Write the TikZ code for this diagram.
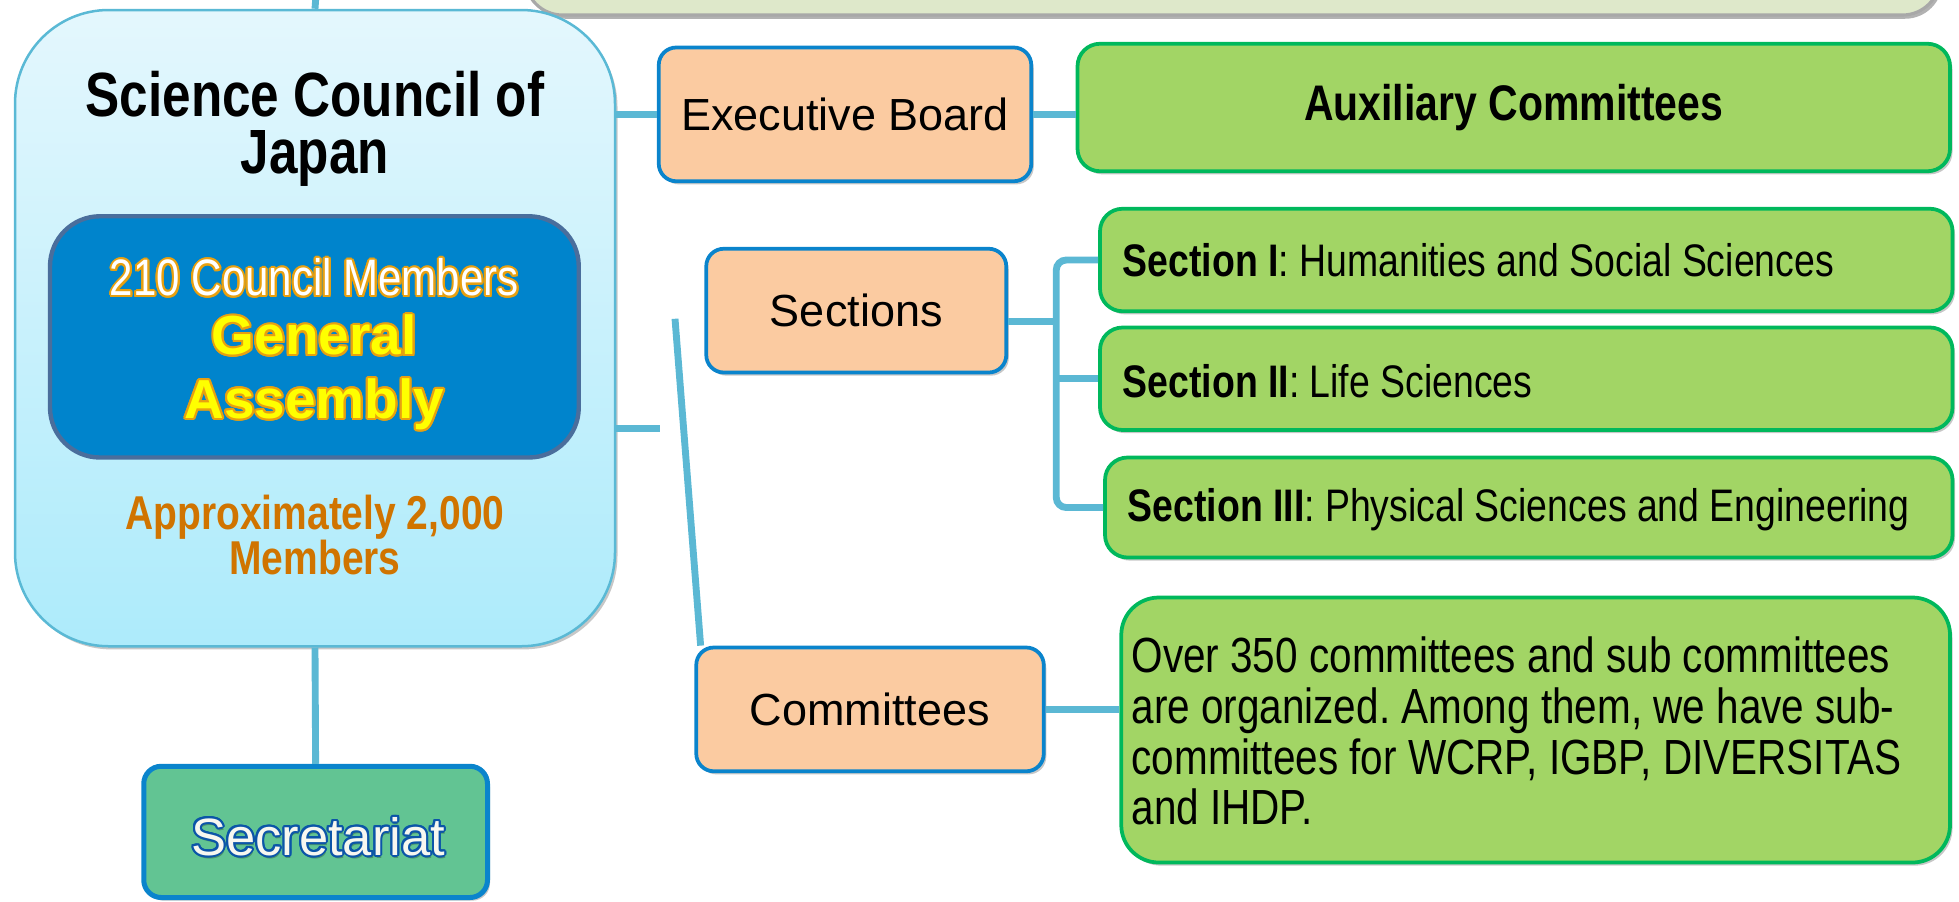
\documentclass[tikz,border=0pt]{standalone}
\usepackage{fontspec}
\setmainfont{Liberation Sans}
\newfontfamily\narrowfont{Liberation Sans}[FakeStretch=0.82]
\usetikzlibrary{shadows}
\frenchspacing
\definecolor{conn}{HTML}{5BB8D4}
\definecolor{scjtop}{HTML}{E4F7FD}
\definecolor{scjbot}{HTML}{ADEBFB}
\definecolor{scjline}{HTML}{5AB9D5}
\definecolor{gafill}{HTML}{0084CC}
\definecolor{galine}{HTML}{4A6E9C}
\definecolor{boxblue}{HTML}{0A84CC}
\definecolor{peachfill}{HTML}{FBCBA1}
\definecolor{greenfill}{HTML}{A2D565}
\definecolor{greenline}{HTML}{00B85C}
\definecolor{secfill}{HTML}{62C493}
\definecolor{topfill}{HTML}{DEE8CA}
\definecolor{topline}{HTML}{A8A8A8}
\definecolor{gold}{HTML}{E8A010}
\definecolor{yel}{HTML}{FFFF00}
\definecolor{orangetxt}{HTML}{D07400}
\definecolor{secout}{HTML}{0B55A8}
\definecolor{sectext}{HTML}{F7F7F0}
\newcommand\outlinedtext[6]{%
  \foreach \ang in {0,20,...,340}
    \node[text=#3,font=#5,align=center] at ([shift={(\ang:#2)}]#1) {#6};
  \node[text=#4,font=#5,align=center] at (#1) {#6};}
\begin{document}
\begin{tikzpicture}[x=1pt,y=-1pt,
  connector/.style={draw=conn,line width=5.5pt},
  shade/.style={drop shadow={shadow xshift=2pt,shadow yshift=-2.5pt,opacity=0.22,fill=black}},
  peachbox/.style={rectangle,rounded corners=14pt,draw=boxblue,line width=3pt,fill=peachfill,inner sep=0pt,shade,font=\fontsize{36}{43}\selectfont},
  greenbox/.style={rectangle,rounded corners=18pt,draw=greenline,line width=3pt,fill=greenfill,inner sep=0pt,shade},
  sectxt/.style={anchor=west,inner sep=0pt,font=\narrowfont\fontsize{36.5}{44}\selectfont}
]
\useasboundingbox (0,0) rectangle (1567.2,720.8);

% top (cut) box
\node[rectangle,rounded corners=30pt,draw=topline,line width=2.5pt,fill=topfill,
  drop shadow={shadow xshift=2pt,shadow yshift=-3pt,opacity=0.3,fill=black},
  minimum width=1132pt,minimum height=80pt] (top) at (986,-28) {};

% Science Council of Japan
\node[rectangle,rounded corners=75pt,draw=scjline,line width=2pt,
  top color=scjtop,bottom color=scjbot,shade,
  minimum width=480pt,minimum height=509pt] (scj) at (252,262.5) {};
\node[align=center,font=\narrowfont\bfseries\fontsize{50}{45}\selectfont] (title) at (252,103) {Science Council of\\Japan};

\node[rectangle,rounded corners=40pt,draw=galine,line width=3.5pt,fill=gafill,
  minimum width=423pt,minimum height=193pt] (ga) at (251.5,269.5) {};
\coordinate (tcm) at (251.5,222);
\outlinedtext{tcm}{1.6pt}{gold}{white}{\narrowfont\fontsize{41}{48}\selectfont}{210 Council Members}
\coordinate (tga) at (251.5,298);
\outlinedtext{tga}{1.6pt}{gold}{yel}{\bfseries\fontsize{44}{51}\selectfont}{General\\Assembly}
\node[align=center,text=orangetxt,font=\narrowfont\bfseries\fontsize{38}{36}\selectfont] (approx) at (252,428) {Approximately 2,000\\Members};

% Secretariat
\node[rectangle,rounded corners=14pt,draw=boxblue,line width=4pt,fill=secfill,shade,
  minimum width=275pt,minimum height=105pt] (sec) at (252.5,665.5) {};
\coordinate (tsec) at (254.5,669);
\node[text=black,opacity=0.25,font=\fontsize{42}{50}\selectfont] (tsecshadow) at (255.5,671.5) {Secretariat};
\outlinedtext{tsec}{1.6pt}{secout}{sectext}{\fontsize{42}{50}\selectfont}{Secretariat}

% right side boxes
\node[peachbox,minimum width=298pt,minimum height=107pt] (exec) at (676,91.5) {Executive Board};
\node[greenbox,minimum width=698pt,minimum height=102pt,font=\narrowfont\bfseries\fontsize{40}{48}\selectfont] (aux) at (1211,86) {Auxiliary Committees};
\node[peachbox,minimum width=240pt,minimum height=99pt] (sections) at (685,248.5) {Sections};
\node[greenbox,minimum width=682pt,minimum height=82pt] (s1) at (1221,208) {};
\node[greenbox,minimum width=682pt,minimum height=82pt] (s2) at (1221,303) {};
\node[greenbox,minimum width=678pt,minimum height=80pt] (s3) at (1223,406) {};
\node[sectxt] (t1) at (898,208) {\textbf{Section I}: Humanities and Social Sciences};
\node[sectxt] (t2) at (898,305) {\textbf{Section II}: Life Sciences};
\node[sectxt] (t3) at (902,408) {\textbf{Section III}: Physical Sciences and Engineering};
\node[peachbox,minimum width=278pt,minimum height=99pt] (comm) at (696,567.5) {Committees};
\node[greenbox,rounded corners=30pt,minimum width=663pt,minimum height=212pt] (desc) at (1228.5,584) {};
\node[anchor=west,align=left,inner sep=0pt,font=\narrowfont\fontsize{39.5}{40.5}\selectfont] (desctxt) at (905,585)
  {Over 350 committees and sub committees\\are organized. Among them, we have sub-\\committees for WCRP, IGBP, DIVERSITAS\\and IHDP.};

% connectors
\coordinate (topend) at (252.5,0);
\coordinate (stub) at (528,343);
\coordinate (slanttop) at (540,255);
\coordinate (bx) at (845,0);
\coordinate (secy) at (0,257);
\draw[connector] (topend) -- (scj.north);
\draw[connector] (scj.south) -- (sec.north);
\draw[connector] (scj.east |- exec.west) -- (exec.west);
\draw[connector] (exec.east) -- (aux.west |- exec.east);
\draw[connector] (scj.east |- stub) -- (stub);
\draw[connector] (slanttop) -- ([xshift=5pt]comm.north west);
\draw[connector] (sections.east |- secy) -- (bx |- secy);
\draw[connector,rounded corners=8pt] (s1.west) -- (bx |- s1.west) -- (bx |- s3.west) -- (s3.west);
\draw[connector] (bx |- s2.west) -- (s2.west);
\draw[connector] (comm.east) -- (desc.west |- comm.east);
\end{tikzpicture}
\end{document}
